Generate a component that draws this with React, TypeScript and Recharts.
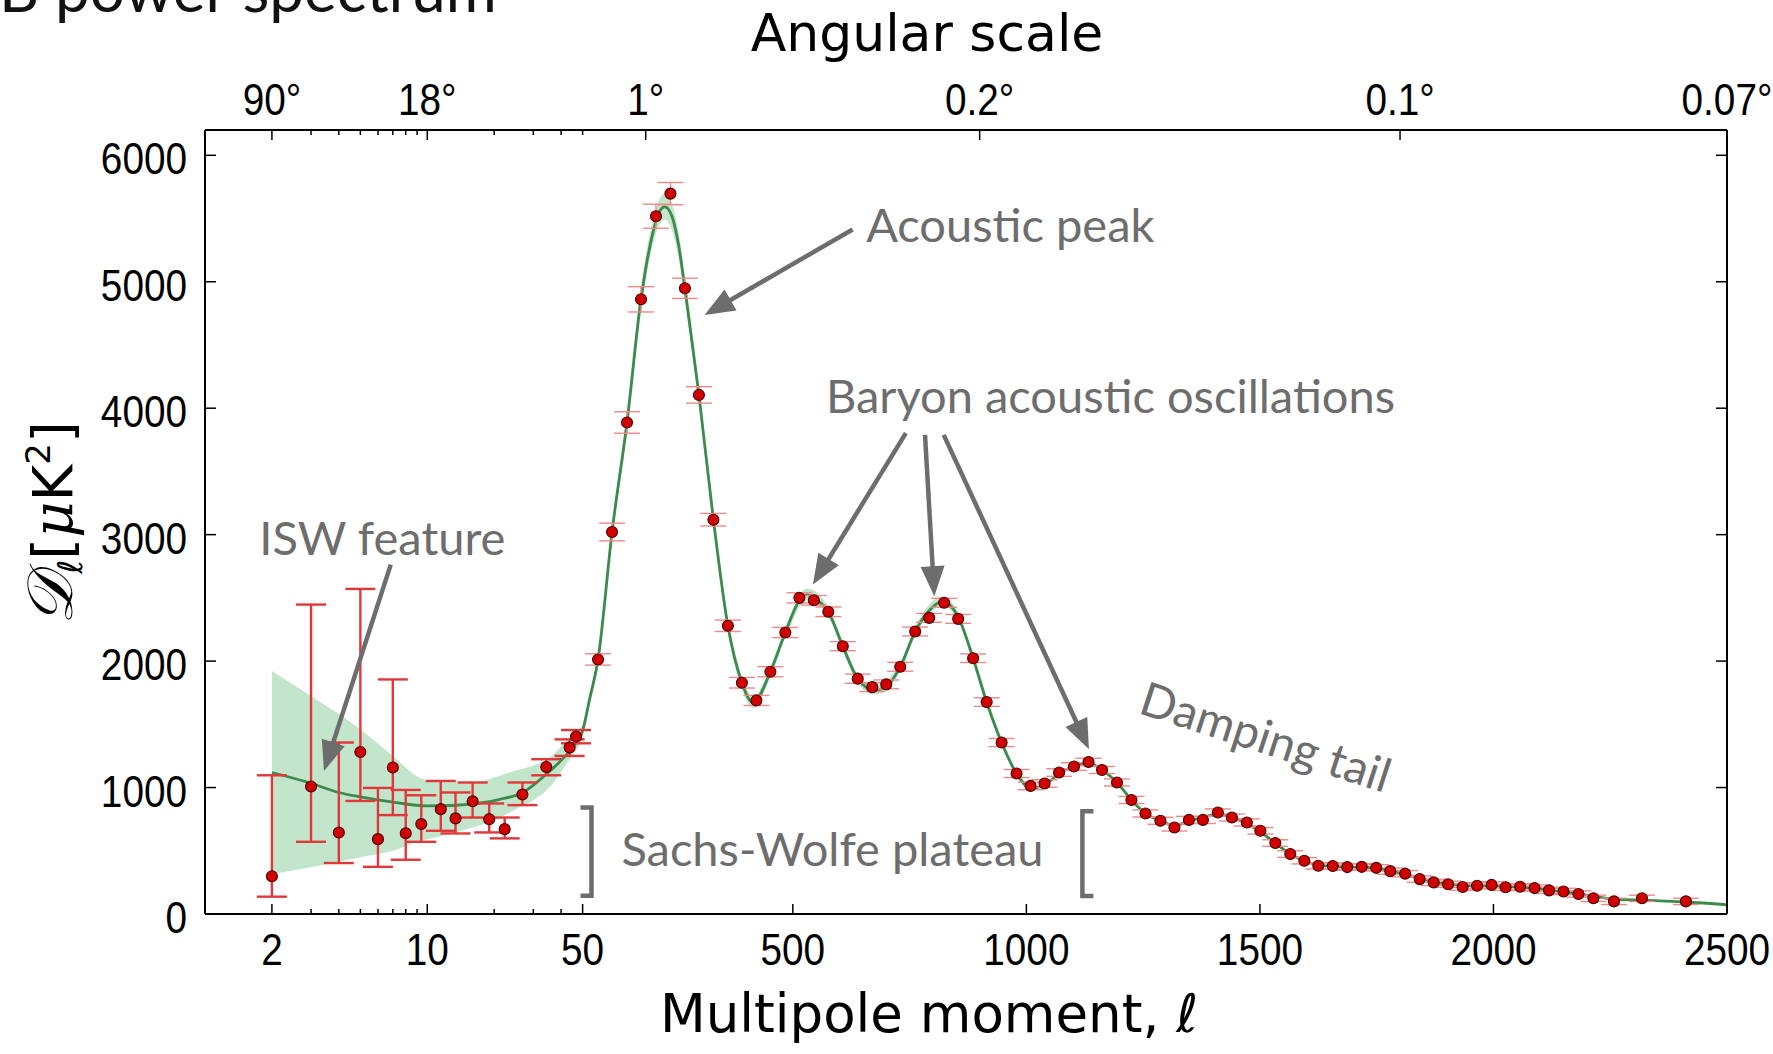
import React from 'react';
import {
  ComposedChart,
  XAxis,
  YAxis,
  Area,
  Line,
  Scatter,
  ErrorBar,
  ReferenceLine,
  ReferenceDot,
} from 'recharts';

// low-ell points: [ell, D, lower end of bar, upper end of bar]
const lowEllPoints: [number, number, number, number][] = [
  [2, 298, 137, 1097],
  [3, 1008, 571, 2447],
  [4, 645, 403, 1356],
  [5, 1281, 894, 2571],
  [6, 592, 373, 997],
  [7, 1158, 782, 1855],
  [8, 639, 429, 981],
  [9.4, 711, 571, 939],
  [11.5, 829, 658, 1052],
  [13.4, 756, 637, 961],
  [16, 892, 763, 1040],
  [19, 750, 645, 874],
  [22.3, 671, 598, 763],
  [26.8, 945, 861, 1040],
  [34.3, 1163, 1097, 1224],
  [43.7, 1316, 1250, 1381],
  [46.7, 1403, 1350, 1455],
];

// binned high-ell points: [ell, D, sigma]
const binnedPoints: [number, number, number][] = [
  [83, 2013, 45], [113, 3021, 70], [145, 3887, 85], [175, 4861, 100],
  [207, 5518, 95], [238, 5697, 88], [269, 4948, 80], [299, 4105, 65],
  [330, 3118, 50], [361, 2279, 45], [391, 1829, 42], [422, 1689, 40],
  [452, 1916, 40], [484, 2226, 40], [514, 2500, 40], [545, 2481, 38],
  [576, 2390, 38], [607, 2118, 36], [639, 1861, 36], [670, 1794, 35],
  [700, 1816, 35], [730, 1955, 35], [762, 2234, 35], [792, 2342, 35],
  [824, 2461, 35], [854, 2334, 35], [886, 2023, 34], [915, 1676, 34],
  [947, 1356, 32], [979, 1111, 32], [1009, 1013, 30], [1039, 1032, 30],
  [1070, 1119, 30], [1102, 1166, 30], [1133, 1202, 30], [1162, 1139, 28],
  [1194, 1040, 28], [1225, 902, 28], [1255, 795, 28], [1287, 737, 28],
  [1317, 684, 28], [1348, 744, 28], [1378, 744, 28], [1410, 803, 28],
  [1440, 763, 28], [1472, 724, 28], [1501, 658, 26], [1533, 561, 26],
  [1565, 474, 26], [1595, 421, 25], [1625, 381, 25], [1656, 379, 25],
  [1687, 371, 25], [1718, 373, 25], [1749, 365, 25], [1779, 339, 25],
  [1811, 319, 25], [1842, 276, 25], [1872, 250, 25], [1903, 235, 25],
  [1934, 213, 25], [1965, 223, 25], [1996, 230, 25], [2026, 211, 25],
  [2057, 215, 25], [2088, 205, 25], [2119, 187, 25], [2150, 178, 25],
  [2182, 158, 25], [2214, 124, 25], [2258, 100, 25], [2318, 124, 25],
  [2412, 100, 25],
];

// best-fit model: [ell, D]
const modelCurve: [number, number][] = [
  [2, 1119], [3, 1034], [4, 961], [5, 926], [7, 885], [10, 855], [13, 858],
  [17, 876], [21, 905], [27, 963], [35, 1119], [44, 1297], [50, 1450],
  [65, 1700], [83, 2013], [113, 3021], [145, 3887], [175, 4861], [200, 5380],
  [215, 5560], [226, 5592], [240, 5530], [255, 5300], [269, 4948], [299, 4105],
  [330, 3118], [361, 2279], [391, 1829], [415, 1671], [452, 1916], [484, 2226],
  [514, 2480], [530, 2526], [545, 2500], [576, 2390], [607, 2118], [639, 1861],
  [675, 1770], [700, 1800], [730, 1955], [762, 2234], [792, 2400], [820, 2473],
  [854, 2350], [886, 2023], [915, 1676], [947, 1356], [979, 1111], [1009, 995],
  [1039, 1020], [1070, 1110], [1102, 1170], [1133, 1195], [1162, 1140],
  [1194, 1040], [1225, 902], [1255, 795], [1287, 737], [1317, 700], [1348, 735],
  [1378, 765], [1410, 790], [1440, 765], [1472, 715], [1501, 650], [1533, 561],
  [1565, 474], [1595, 421], [1625, 388], [1656, 377], [1687, 372], [1718, 370],
  [1749, 362], [1779, 340], [1811, 315], [1842, 282], [1872, 255], [1903, 237],
  [1934, 226], [1965, 222], [1996, 222], [2026, 216], [2057, 212], [2088, 203],
  [2119, 189], [2150, 176], [2182, 160], [2214, 140], [2258, 118], [2318, 110],
  [2412, 95], [2500, 73],
];

// model uncertainty band: [ell, low, high]
const modelBand: [number, number, number][] = [
  [2, 316, 1921], [3, 369, 1723], [5, 448, 1460], [7, 500, 1250], [9, 570, 1090],
  [11, 606, 1045], [16, 684, 1040], [21, 760, 1092], [25, 829, 1135], [30, 900, 1175],
  [36, 1013, 1245], [42, 1180, 1365], [47, 1300, 1445], [50, 1390, 1500],
  [65, 1650, 1750], [83, 1965, 2060], [113, 2965, 3080], [145, 3815, 3960],
  [175, 4770, 4960], [200, 5290, 5480], [226, 5490, 5700], [255, 5200, 5400],
  [269, 4860, 5040], [299, 4030, 4180], [330, 3060, 3180], [361, 2230, 2330],
  [391, 1780, 1880], [415, 1630, 1715], [452, 1875, 1960], [484, 2185, 2265],
  [530, 2480, 2575], [576, 2350, 2430], [607, 2080, 2155], [639, 1825, 1895],
  [675, 1735, 1805], [730, 1920, 1990], [762, 2200, 2270], [820, 2435, 2510],
  [854, 2315, 2385], [886, 1990, 2055], [915, 1645, 1705], [947, 1330, 1385],
  [979, 1090, 1130], [1009, 980, 1010],
];

const bottomMajor = [2, 10, 50, 500, 1000, 1500, 2000, 2500];
const bottomMinor = [3, 4, 5, 6, 7, 8, 9, 20, 30, 40];
const topMajorEll = [2, 10, 185, 900, 1800, 2500];
const topMajorLabels = ['90°', '18°', '1°', '0.2°', '0.1°', '0.07°'];
const topMinor = [3, 4, 5, 6, 7, 8, 9, 20, 30, 40, 50];
const yTicks = [0, 1000, 2000, 3000, 4000, 5000, 6000];

// hybrid axis: log up to ell = 50, linear above
const LOG_PX = 222.7;
const LIN_PX = 0.468;
const toU = (l: number) =>
  l <= 50 ? LOG_PX * Math.log10(l) : LOG_PX * Math.log10(50) + LIN_PX * (l - 50);
const U_MAX = toU(2500);

const lowData = lowEllPoints.map(([l, d, lo, hi]) => ({ u: toU(l), d, err: [d - lo, hi - d] }));
const binnedData = binnedPoints.map(([l, d, s]) => ({ u: toU(l), d, err: [s, s] }));
const modelData = modelCurve.map(([l, d]) => ({ u: toU(l), d }));
const bandData = modelBand.map(([l, lo, hi]) => ({ u: toU(l), range: [lo, hi] }));

type TickDef = { u: number; label: string | null };
const bottomTicks: TickDef[] = [
  ...bottomMajor.map((l) => ({ u: toU(l), label: String(l) })),
  ...bottomMinor.map((l) => ({ u: toU(l), label: null })),
];
const topTicks: TickDef[] = [
  ...topMajorEll.map((l, i) => ({ u: toU(l), label: topMajorLabels[i] })),
  ...topMinor.map((l) => ({ u: toU(l), label: null })),
];
const findTick = (list: TickDef[], v: number) => list.find((t) => Math.abs(t.u - v) < 1e-6);

const TICK_FONT = '"Liberation Sans", Arial, sans-serif';
const NOTE_FONT = 'Lato, "Open Sans", sans-serif';
const NOTE_COLOR = '#6d6d6d';

const BottomTick = (props: any) => {
  const { x, y, payload } = props;
  const t = findTick(bottomTicks, payload.value);
  const major = !!(t && t.label);
  return (
    <g>
      <line x1={x} x2={x} y1={y} y2={y - (major ? 10 : 5)} stroke="#000" strokeWidth={1.5} />
      {major && (
        <text
          transform={`translate(${x},${y + 51}) scale(0.88,1)`}
          textAnchor="middle"
          fontFamily={TICK_FONT}
          fontSize={44}
          fill="#000"
        >
          {t!.label}
        </text>
      )}
    </g>
  );
};

const TopTick = (props: any) => {
  const { x, y, payload } = props;
  const t = findTick(topTicks, payload.value);
  const major = !!(t && t.label);
  return (
    <g>
      <line x1={x} x2={x} y1={y} y2={y + (major ? 10 : 5)} stroke="#000" strokeWidth={1.5} />
      {major && (
        <text
          transform={`translate(${x},${y - 15}) scale(0.88,1)`}
          textAnchor="middle"
          fontFamily={TICK_FONT}
          fontSize={44}
          fill="#000"
        >
          {t!.label}
        </text>
      )}
    </g>
  );
};

const LeftTick = (props: any) => {
  const { x, y, payload } = props;
  return (
    <g>
      <line x1={x} x2={x + 11} y1={y} y2={y} stroke="#000" strokeWidth={1.5} />
      <text
        transform={`translate(${x - 18},${y + 19}) scale(0.88,1)`}
        textAnchor="end"
        fontFamily={TICK_FONT}
        fontSize={44}
        fill="#000"
      >
        {payload.value}
      </text>
    </g>
  );
};

const RightTick = (props: any) => {
  const { x, y } = props;
  return <line x1={x} x2={x - 11} y1={y} y2={y} stroke="#000" strokeWidth={1.5} />;
};

const PointShape = (p: any) => (
  <circle cx={p.cx} cy={p.cy} r={5.5} fill="#d10000" stroke="#4a0000" strokeWidth={1.1} />
);

const Arrow = (p: any) => {
  const { x1, y1, x2, y2 } = p;
  const dx = x2 - x1;
  const dy = y2 - y1;
  const len = Math.sqrt(dx * dx + dy * dy);
  const ux = dx / len;
  const uy = dy / len;
  const head = 30;
  const half = 12;
  const bx = x2 - ux * head;
  const by = y2 - uy * head;
  return (
    <g>
      <line x1={x1} y1={y1} x2={bx + ux * 2} y2={by + uy * 2} stroke={NOTE_COLOR} strokeWidth={4.5} />
      <polygon
        points={`${x2},${y2} ${bx - uy * half},${by + ux * half} ${bx + uy * half},${by - ux * half}`}
        fill={NOTE_COLOR}
      />
    </g>
  );
};

const bracket = (dir: number) => (p: any) => {
  const { x1, y1, y2 } = p;
  return (
    <path
      d={`M${x1 + dir * 11},${y1} L${x1},${y1} L${x1},${y2} L${x1 + dir * 11},${y2}`}
      fill="none"
      stroke={NOTE_COLOR}
      strokeWidth={4.5}
    />
  );
};

const note = (text: string, rotate = 0) => (p: any) => (
  <text
    transform={`translate(${p.cx},${p.cy}) rotate(${rotate})`}
    fontFamily={NOTE_FONT}
    fontSize={47}
    fill={NOTE_COLOR}
  >
    {text}
  </text>
);

const seg = (l1: number, d1: number, l2: number, d2: number) => [
  { x: toU(l1), y: d1 },
  { x: toU(l2), y: d2 },
];

const axisLine = { stroke: '#000', strokeWidth: 2 };

export default function App() {
  return (
    <div style={{ position: 'relative', width: 1773, height: 1054, overflow: 'hidden', background: '#fff' }}>
      <style>{'body{margin:0}'}</style>
      <ComposedChart width={1773} height={1054} margin={{ top: 90, right: 36, bottom: 80, left: 105 }}>
        <XAxis
          xAxisId={0}
          dataKey="u"
          type="number"
          domain={[0, U_MAX]}
          allowDataOverflow
          ticks={bottomTicks.map((t) => t.u)}
          interval={0}
          tick={BottomTick}
          tickLine={false}
          tickSize={0}
          tickMargin={0}
          height={60}
          axisLine={axisLine}
        />
        <XAxis
          xAxisId="top"
          orientation="top"
          dataKey="u"
          type="number"
          domain={[0, U_MAX]}
          allowDataOverflow
          ticks={topTicks.map((t) => t.u)}
          interval={0}
          tick={TopTick}
          tickLine={false}
          tickSize={0}
          tickMargin={0}
          height={40}
          axisLine={axisLine}
        />
        <YAxis
          yAxisId={0}
          type="number"
          domain={[0, 6200]}
          allowDataOverflow
          ticks={yTicks}
          interval={0}
          tick={LeftTick}
          tickLine={false}
          tickSize={0}
          tickMargin={0}
          width={100}
          axisLine={axisLine}
        />
        <YAxis
          yAxisId="right"
          orientation="right"
          type="number"
          domain={[0, 6200]}
          allowDataOverflow
          ticks={yTicks}
          interval={0}
          tick={RightTick}
          tickLine={false}
          tickSize={0}
          tickMargin={0}
          width={10}
          axisLine={axisLine}
        />

        <Area
          data={bandData}
          dataKey="range"
          type="monotone"
          fill="#c2e5cb"
          fillOpacity={1}
          stroke="none"
          isAnimationActive={false}
        />
        <Line
          data={modelData}
          dataKey="d"
          type="monotone"
          stroke="#3c8a4c"
          strokeWidth={2.8}
          dot={false}
          isAnimationActive={false}
        />
        <Scatter data={lowData} dataKey="d" shape={PointShape} isAnimationActive={false}>
          <ErrorBar dataKey="err" direction="y" width={15} stroke="#e0383a" strokeWidth={2.4} />
        </Scatter>
        <Scatter data={binnedData} dataKey="d" shape={PointShape} isAnimationActive={false}>
          <ErrorBar dataKey="err" direction="y" width={13} stroke="#ec8a8a" strokeWidth={1.4} />
        </Scatter>

        <ReferenceLine segment={seg(628, 5413, 311, 4737)} shape={Arrow} />
        <ReferenceLine segment={seg(742, 3803, 543, 2605)} shape={Arrow} />
        <ReferenceLine segment={seg(783, 3789, 803, 2513)} shape={Arrow} />
        <ReferenceLine segment={seg(823, 3789, 1134, 1303)} shape={Arrow} />
        <ReferenceLine segment={seg(6.85, 2763, 3.43, 1131)} shape={Arrow} />
        <ReferenceLine segment={seg(69, 842, 69, 145)} shape={bracket(-1)} />
        <ReferenceLine segment={seg(1120, 813, 1120, 142)} shape={bracket(1)} />

        <ReferenceDot x={toU(657)} y={5315} r={0} shape={note('Acoustic peak')} />
        <ReferenceDot x={toU(571)} y={3961} r={0} shape={note('Baryon acoustic oscillations')} />
        <ReferenceDot x={toU(1.754)} y={2842} r={0} shape={note('ISW feature')} />
        <ReferenceDot x={toU(133)} y={381} r={0} shape={note('Sachs-Wolfe plateau')} />
        <ReferenceDot x={toU(1237)} y={1592} r={0} shape={note('Damping tail', 18)} />
      </ComposedChart>

      <svg
        width={1773}
        height={1054}
        style={{ position: 'absolute', left: 0, top: 0, pointerEvents: 'none' }}
      >
        <text x={-100} y={12} fontFamily={NOTE_FONT} fontSize={62} fill="#111">
          CMB power spectrum
        </text>
        <text x={927} y={51} textAnchor="middle" fontFamily='"DejaVu Sans", sans-serif' fontSize={52} fill="#000">
          Angular scale
        </text>
        <text x={929} y={1032} textAnchor="middle" fontFamily='"DejaVu Sans", sans-serif' fontSize={53} fill="#000">
          Multipole moment, <tspan fontStyle="italic">ℓ</tspan>
        </text>
        <text transform="translate(72,523) rotate(-90)" textAnchor="middle" fill="#000" fontFamily='"DejaVu Sans", sans-serif'>
          <tspan fontSize={64} fontFamily='"DejaVu Serif", serif' fontStyle="italic">𝒟</tspan>
          <tspan fontSize={34} dy={10} fontStyle="italic">ℓ</tspan>
          <tspan fontSize={56} dy={-10}>[</tspan>
          <tspan fontSize={56} fontFamily='"DejaVu Serif", serif' fontStyle="italic">μ</tspan>
          <tspan fontSize={56}>K</tspan>
          <tspan fontSize={34} dy={-22}>2</tspan>
          <tspan fontSize={56} dy={22}>]</tspan>
        </text>
      </svg>
    </div>
  );
}
